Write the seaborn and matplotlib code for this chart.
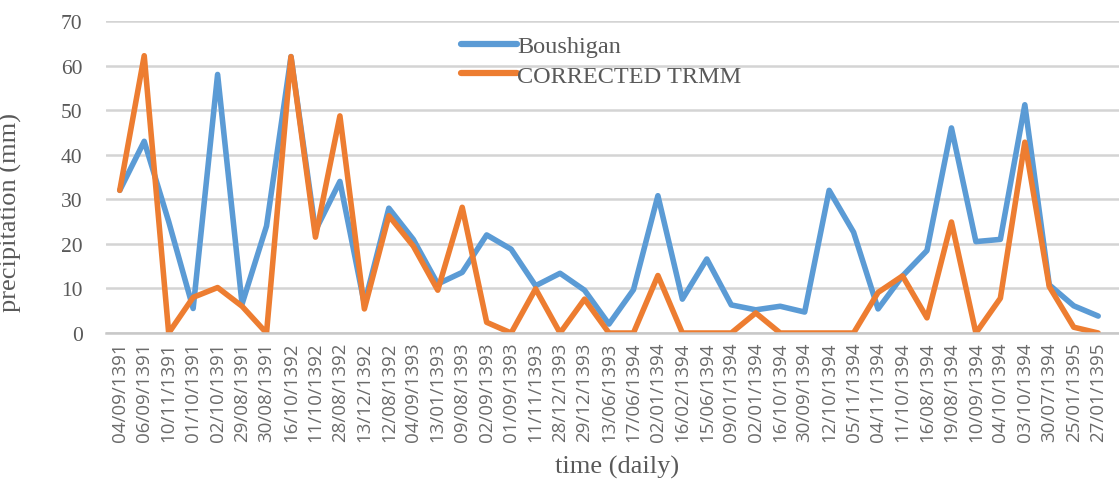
import numpy as np
import pandas as pd
import matplotlib
matplotlib.use('Agg')
import matplotlib.pyplot as plt
import seaborn as sns

#-----------------------
# Data
#-----------------------

dates = ['04/09/1391', '06/09/1391', '10/11/1391', '01/10/1391', '02/10/1391',
         '29/08/1391', '30/08/1391', '16/10/1392', '11/10/1392', '28/08/1392',
         '13/12/1392', '12/08/1392', '04/09/1393', '13/01/1393', '09/08/1393',
         '02/09/1393', '01/09/1393', '11/11/1393', '28/12/1393', '29/12/1393',
         '13/06/1393', '17/06/1394', '02/01/1394', '16/02/1394', '15/06/1394',
         '09/01/1394', '02/01/1394', '16/10/1394', '30/09/1394', '12/10/1394',
         '05/11/1394', '04/11/1394', '11/10/1394', '16/08/1394', '19/08/1394',
         '10/09/1394', '04/10/1394', '03/10/1394', '30/07/1394', '25/01/1395',
         '27/01/1395']

boushigan = [32, 43, 25, 5.5, 58, 6.5, 24, 62, 23, 34,
             6.5, 28, 21, 11, 13.6, 22, 18.8, 10.6, 13.4, 9.6,
             2, 9.7, 30.8, 7.6, 16.6, 6.3, 5.2, 6, 4.7, 32,
             22.6, 5.4, 12.8, 18.5, 46, 20.5, 21, 51.2, 10.8, 6.1,
             3.8]

corrected_trmm = [32, 62.2, 0, 8, 10.2, 6, 0, 62, 21.5, 48.7,
                  5.4, 26.3, 19.5, 9.6, 28.2, 2.4, 0, 9.9, 0, 7.6,
                  0, 0, 12.9, 0, 0, 0, 4.5, 0, 0, 0,
                  0, 9.1, 12.8, 3.4, 24.9, 0, 7.8, 42.8, 10.4, 1.3,
                  0]

series_names = ['Boushigan', 'CORRECTED TRMM']
colors = ['#5B9BD5', '#ED7D31']

# long-form table for seaborn (numeric position since a date repeats)
df = pd.DataFrame({'pos': np.tile(np.arange(len(dates)), 2),
                   'precip': boushigan + corrected_trmm,
                   'series': np.repeat(series_names, len(dates))})

#-----------------------
# Plot
#-----------------------

sns.set_style('white')
plt.rcParams['font.family'] = ['Liberation Serif', 'DejaVu Serif']

fig = plt.figure(figsize=(11.19, 4.81), dpi=100)
ax = fig.add_axes([0.095, 0.3056, 0.905, 0.6488])

sns.lineplot(data=df, x='pos', y='precip', hue='series',
             palette=colors, linewidth=4.0, ax=ax, sort=False)

# axes limits / grid
ax.set_ylim(0, 70)
ax.set_yticks(np.arange(0, 71, 10))
ax.set_xlim(-0.55, 40.85)
ax.yaxis.grid(True, color='#d4d4d4', linewidth=1.8)
ax.set_axisbelow(True)
for s in ['left', 'right', 'top']:
    ax.spines[s].set_visible(False)
ax.spines['bottom'].set_color('#c8c8c8')
ax.spines['bottom'].set_linewidth(1.8)
ax.tick_params(axis='x', length=0, pad=6)
ax.tick_params(axis='y', length=0, pad=17)

# tick labels
ax.set_xticks(np.arange(len(dates)))
ax.set_xticklabels(dates, rotation=90, fontsize=13.5, color='#6a6a6a',
                   family=['Open Sans', 'DejaVu Sans'])
for lab in ax.get_yticklabels():
    lab.set_fontsize(15.5)
    lab.set_color('#595959')

ax.set_xlabel('time (daily)', fontsize=19, color='#595959')
ax.set_ylabel('precipitation (mm)', fontsize=19, color='#595959')
ax.xaxis.set_label_coords(0.504, -0.39)
ax.yaxis.set_label_coords(-0.083, 0.39)

# legend
leg = ax.legend(loc='upper left', bbox_to_anchor=(0.341, 0.985), frameon=False,
                fontsize=17.5, handlelength=2.3, handletextpad=0.0,
                labelspacing=0.3, borderaxespad=0)
for t in leg.get_texts():
    t.set_color('#595959')
for h in leg.get_lines():
    h.set_linewidth(4.5)

fig.savefig('out.png', dpi=100)
